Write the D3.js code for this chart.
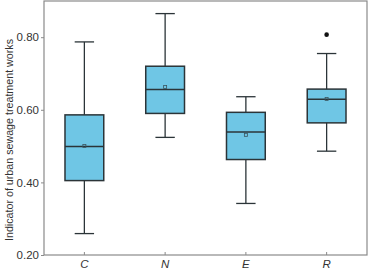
<!DOCTYPE html>
<html>
<head>
<meta charset="utf-8">
<script src="https://cdn.jsdelivr.net/npm/d3@7"></script>
<style>
  body { margin: 0; background: #fff; }
  svg { display: block; font-family: "Liberation Sans", Arial, sans-serif; }
</style>
</head>
<body>
<svg id="chart" width="368" height="270"></svg>
<script>
const categories = ['C', 'N', 'E', 'R'];
const whiskerLow = [0.259, 0.524, 0.342, 0.486];
const q1 = [0.405, 0.590, 0.463, 0.564];
const median = [0.499, 0.656, 0.539, 0.629];
const q3 = [0.586, 0.720, 0.593, 0.657];
const whiskerHigh = [0.787, 0.865, 0.636, 0.755];
const means = [0.500, 0.663, 0.531, 0.630];
const outliers = [[], [], [], [0.807]];
const yTicks = [0.2, 0.4, 0.6, 0.8];

const data = categories.map((c, i) => ({
  cat: c, lo: whiskerLow[i], q1: q1[i], med: median[i], q3: q3[i],
  hi: whiskerHigh[i], mean: means[i], out: outliers[i]
}));

const margin = { top: 1, right: 1, bottom: 15, left: 44 };
const width = 368 - margin.left - margin.right;
const height = 270 - margin.top - margin.bottom;

const svg = d3.select('#chart');
const g = svg.append('g').attr('transform', `translate(${margin.left},${margin.top})`);

const x = d3.scaleBand().domain(categories).range([0, width]).padding(0);
const y = d3.scaleLinear().domain([0.2, 0.8997]).range([height, 0]);

const boxW = x.bandwidth() * 0.48;
const capW = boxW / 2;
const stroke = '#2b3438';

// frame
g.append('rect')
  .attr('x', 0).attr('y', 0)
  .attr('width', width).attr('height', height)
  .attr('fill', 'none').attr('stroke', '#8a8a8a').attr('stroke-width', 1.2);

const box = g.selectAll('.box').data(data).enter().append('g')
  .attr('transform', d => `translate(${x(d.cat) + x.bandwidth() / 2},0)`);

// whisker lines
box.append('line')
  .attr('x1', 0).attr('x2', 0)
  .attr('y1', d => y(d.lo)).attr('y2', d => y(d.hi))
  .attr('stroke', stroke).attr('stroke-width', 1.3);

box.selectAll('.cap').data(d => [d.lo, d.hi]).enter().append('line')
  .attr('x1', -capW / 2).attr('x2', capW / 2)
  .attr('y1', v => y(v)).attr('y2', v => y(v))
  .attr('stroke', stroke).attr('stroke-width', 1.3);

box.append('rect')
  .attr('x', -boxW / 2).attr('width', boxW)
  .attr('y', d => y(d.q3)).attr('height', d => y(d.q1) - y(d.q3))
  .attr('fill', '#6fc6e5').attr('stroke', stroke).attr('stroke-width', 1.5);

box.append('line')
  .attr('x1', -boxW / 2).attr('x2', boxW / 2)
  .attr('y1', d => y(d.med)).attr('y2', d => y(d.med))
  .attr('stroke', stroke).attr('stroke-width', 1.5);

box.append('rect')
  .attr('x', -1.5).attr('width', 3)
  .attr('y', d => y(d.mean) - 1.5).attr('height', 3)
  .attr('fill', 'none').attr('stroke', '#3a5560').attr('stroke-width', 0.8);

box.selectAll('.out').data(d => d.out).enter().append('circle')
  .attr('cx', 0).attr('cy', v => y(v)).attr('r', 2.3)
  .attr('fill', '#111');

// axes
const yAxis = g.append('g')
  .call(d3.axisLeft(y).tickValues(yTicks).tickFormat(d3.format('.2f')).tickSize(3).tickSizeOuter(0));
yAxis.select('.domain').remove();
yAxis.selectAll('line').attr('stroke', '#8a8a8a');
yAxis.selectAll('text').attr('fill', '#333').style('font-size', '11.5px').attr('x', -5);

const xAxis = g.append('g')
  .attr('transform', `translate(0,${height})`)
  .call(d3.axisBottom(x).tickSize(-3).tickSizeOuter(0));
xAxis.select('.domain').remove();
xAxis.selectAll('line').attr('stroke', '#8a8a8a');
xAxis.selectAll('text').attr('fill', '#333').style('font-size', '11.5px')
  .style('font-style', 'italic').attr('y', 5);

svg.append('text')
  .attr('transform', 'translate(13,140) rotate(-90)')
  .attr('text-anchor', 'middle')
  .attr('fill', '#333')
  .style('font-size', '10.7px')
  .text('Indicator of urban sewage treatment works');
</script>
</body>
</html>
